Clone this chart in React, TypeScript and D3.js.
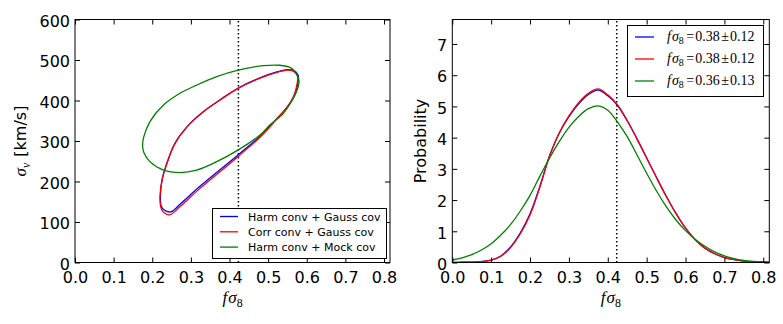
import React from 'react'
import { useEffect, useRef } from 'react'
import { select, scaleLinear, axisBottom, axisLeft, axisTop, axisRight, line, curveCatmullRomClosed, curveCatmullRom, range } from 'd3'

// ---- data ----
const fsigTicks = [0, 0.1, 0.2, 0.3, 0.4, 0.5, 0.6, 0.7, 0.8]
const sigvTicks = [0, 100, 200, 300, 400, 500, 600]
const probTicks = [0, 1, 2, 3, 4, 5, 6, 7]
const fiducial = 0.423

// 1-sigma contours (fsigma8, sigma_v)
const harmGaussX = [0.221, 0.2262, 0.2415, 0.259, 0.291, 0.333, 0.376, 0.4227, 0.479, 0.525, 0.55, 0.568, 0.578, 0.575, 0.566, 0.549, 0.523, 0.485, 0.4227, 0.3236, 0.272, 0.248, 0.23, 0.223]
const harmGaussY = [165, 207, 255, 295, 336, 373, 402, 431, 456, 471, 476, 473, 462, 433, 408, 383, 356, 317, 266, 188, 144, 125, 130, 140]
const corrGaussX = [0.22, 0.2255, 0.241, 0.2585, 0.29, 0.332, 0.375, 0.4227, 0.479, 0.525, 0.55, 0.566, 0.576, 0.573, 0.564, 0.547, 0.521, 0.483, 0.4227, 0.3236, 0.272, 0.246, 0.229, 0.2225]
const corrGaussY = [162, 205, 253, 293, 335, 372, 401, 430, 455, 470, 475, 472, 460, 432, 407, 381, 353, 313, 262, 183, 138, 118, 124, 135]
const harmMockX = [0.175, 0.178, 0.194, 0.229, 0.272, 0.315, 0.367, 0.4227, 0.4875, 0.53, 0.558, 0.572, 0.58, 0.576, 0.565, 0.539, 0.505, 0.479, 0.4227, 0.367, 0.315, 0.272, 0.229, 0.194, 0.178]
const harmMockY = [290, 310, 348, 389, 418, 438, 459, 475, 486, 487, 481, 468, 448, 428, 405, 368, 340, 315, 278, 249, 228, 222, 228, 249, 272]

// marginal probability of fsigma8
const pdfX = [0, 0.025, 0.05, 0.075, 0.1, 0.125, 0.15, 0.175, 0.2, 0.225, 0.25, 0.275, 0.3, 0.325, 0.35, 0.375, 0.4, 0.425, 0.45, 0.475, 0.5, 0.525, 0.55, 0.575, 0.6, 0.625, 0.65, 0.675, 0.7, 0.725, 0.75, 0.775, 0.8, 0.815]
const pdfHarmGauss = [0.005, 0.008, 0.013, 0.03, 0.08, 0.21, 0.5, 0.95, 1.56, 2.43, 3.41, 4.14, 4.67, 5.08, 5.38, 5.52, 5.34, 5.03, 4.54, 3.96, 3.35, 2.73, 2.13, 1.58, 1.1, 0.73, 0.46, 0.28, 0.16, 0.09, 0.045, 0.02, 0.01, 0.007]
const pdfCorrGauss = [0.005, 0.008, 0.012, 0.028, 0.075, 0.2, 0.48, 0.92, 1.52, 2.4, 3.4, 4.15, 4.7, 5.12, 5.42, 5.56, 5.37, 5.05, 4.55, 3.97, 3.35, 2.73, 2.13, 1.58, 1.1, 0.73, 0.46, 0.28, 0.16, 0.09, 0.045, 0.02, 0.01, 0.007]
const pdfHarmMock = [0.08, 0.15, 0.25, 0.4, 0.6, 0.88, 1.22, 1.65, 2.15, 2.76, 3.34, 3.87, 4.33, 4.68, 4.93, 5.02, 4.88, 4.5, 4.03, 3.45, 2.86, 2.3, 1.8, 1.37, 1.02, 0.74, 0.52, 0.34, 0.21, 0.12, 0.065, 0.035, 0.018, 0.013]

const seriesNames = ['Harm conv + Gauss cov', 'Corr conv + Gauss cov', 'Harm conv + Mock cov']
const seriesColors = ['#0000ff', '#ff0000', '#008000']
const pdfLabels = [['0.38', '0.12'], ['0.38', '0.12'], ['0.36', '0.13']]

const SANS = 'DejaVu Sans'
const MATH = 'Liberation Serif'

function App() {
  const svgRef = useRef(null)

  useEffect(() => {
    const width = 783
    const height = 324
    const svg = select(svgRef.current)
    svg.selectAll('*').remove()
    svg.attr('width', width).attr('height', height)
    svg.append('rect').attr('width', width).attr('height', height).attr('fill', 'white')

    const top = 19.5
    const bottom = 262.5

    const drawFrame = (x, y, xt, yt, yFmt) => {
      const g = svg.append('g')
      const [x0, x1] = x.range()
      const [y0, y1] = y.range()
      const styleAxis = (a) => {
        a.select('.domain').remove()
        a.selectAll('.tick line').attr('stroke', 'black').attr('stroke-width', 1)
        a.selectAll('text').attr('font-family', SANS).attr('font-size', 16).attr('fill', 'black')
      }
      g.append('g').attr('transform', `translate(0,${y0})`)
        .call(axisBottom(x).tickValues(xt).tickFormat(d => d.toFixed(1)).tickSize(-5).tickPadding(9))
        .call(styleAxis)
      g.append('g').attr('transform', `translate(0,${y1})`)
        .call(axisTop(x).tickValues(xt).tickFormat(() => '').tickSize(-5))
        .call(styleAxis)
      g.append('g').attr('transform', `translate(${x0},0)`)
        .call(axisLeft(y).tickValues(yt).tickFormat(yFmt).tickSize(-5).tickPadding(5))
        .call(styleAxis)
        .selectAll('text').attr('dy', '0.42em')
      g.append('g').attr('transform', `translate(${x1},0)`)
        .call(axisRight(y).tickValues(yt).tickFormat(() => '').tickSize(-5))
        .call(styleAxis)
      g.append('rect')
        .attr('x', x0).attr('y', y1).attr('width', x1 - x0).attr('height', y0 - y1)
        .attr('fill', 'none').attr('stroke', 'black').attr('stroke-width', 1)
      return g
    }

    const addMathLabel = (sel) => {
      sel.append('tspan').attr('font-style', 'italic').text('f')
      sel.append('tspan').attr('font-style', 'italic').attr('dx', 1).text('σ')
      sel.append('tspan').attr('font-size', '0.7em').attr('dy', 4).text('8')
    }

    // ---------- left panel ----------
    const xL = scaleLinear().domain([0, 0.8155]).range([75, 390])
    const yL = scaleLinear().domain([0, 600]).range([bottom, top])

    svg.append('line')
      .attr('x1', xL(fiducial)).attr('x2', xL(fiducial))
      .attr('y1', yL(0)).attr('y2', yL(600))
      .attr('stroke', 'black').attr('stroke-width', 1.5).attr('stroke-dasharray', '1.5,2.5')

    const contours = [[harmGaussX, harmGaussY], [corrGaussX, corrGaussY], [harmMockX, harmMockY]]
    const contourLine = line().x(d => xL(d[0])).y(d => yL(d[1])).curve(curveCatmullRomClosed.alpha(0.5))
    contours.forEach(([cx, cy], i) => {
      svg.append('path')
        .datum(cx.map((v, k) => [v, cy[k]]))
        .attr('d', contourLine)
        .attr('fill', 'none').attr('stroke', seriesColors[i]).attr('stroke-width', 1.3)
    })

    drawFrame(xL, yL, fsigTicks, sigvTicks, d => String(d))

    // left legend
    const legL = svg.append('g')
    legL.append('rect').attr('x', 212.5).attr('y', 208.5).attr('width', 174).attr('height', 50)
      .attr('fill', 'white').attr('stroke', 'black').attr('stroke-width', 1)
    seriesNames.forEach((name, i) => {
      const yy = 216.5 + i * 15.3
      legL.append('line').attr('x1', 220).attr('x2', 238).attr('y1', yy).attr('y2', yy)
        .attr('stroke', seriesColors[i]).attr('stroke-width', 1.3)
      legL.append('text').attr('x', 248).attr('y', yy + 4)
        .attr('font-family', SANS).attr('font-size', 11).text(name)
    })

    // left labels
    const ylab = svg.append('text')
      .attr('transform', 'translate(26,141) rotate(-90)')
      .attr('text-anchor', 'middle').attr('font-size', 16).attr('fill', 'black')
    ylab.append('tspan').attr('font-family', MATH).attr('font-style', 'italic').attr('font-size', 17).text('σ')
    ylab.append('tspan').attr('font-family', MATH).attr('font-style', 'italic').attr('font-size', 12).attr('dy', 4).text('v')
    ylab.append('tspan').attr('font-family', SANS).attr('dy', -4).attr('dx', 6).text('[km/s]')

    const xlabL = svg.append('text').attr('x', xL(0.408)).attr('y', 303)
      .attr('text-anchor', 'middle').attr('font-family', MATH).attr('font-size', 17)
    addMathLabel(xlabL)

    // ---------- right panel ----------
    const xR = scaleLinear().domain([0, 0.8155]).range([452.3, 769.3])
    const yR = scaleLinear().domain([0, 7.785]).range([bottom, top])

    svg.append('line')
      .attr('x1', xR(fiducial)).attr('x2', xR(fiducial))
      .attr('y1', yR(0)).attr('y2', yR(7.785))
      .attr('stroke', 'black').attr('stroke-width', 1.5).attr('stroke-dasharray', '1.5,2.5')

    const pdfLine = line().x(d => xR(d[0])).y(d => yR(d[1])).curve(curveCatmullRom.alpha(0.5))
    ;[pdfHarmGauss, pdfCorrGauss, pdfHarmMock].forEach((vals, i) => {
      svg.append('path')
        .datum(pdfX.map((v, k) => [v, vals[k]]))
        .attr('d', pdfLine)
        .attr('fill', 'none').attr('stroke', seriesColors[i]).attr('stroke-width', 1.3)
    })

    drawFrame(xR, yR, fsigTicks, probTicks, d => String(d))

    // right legend
    const legR = svg.append('g')
    legR.append('rect').attr('x', 627.5).attr('y', 25.5).attr('width', 136).attr('height', 71)
      .attr('fill', 'white').attr('stroke', 'black').attr('stroke-width', 1)
    range(3).forEach(i => {
      const yy = 37 + i * 22
      legR.append('line').attr('x1', 635).attr('x2', 654).attr('y1', yy).attr('y2', yy)
        .attr('stroke', seriesColors[i]).attr('stroke-width', 1.3)
      const t = legR.append('text').attr('x', 667).attr('y', yy + 4)
        .attr('font-family', MATH).attr('font-size', 14)
      t.append('tspan').attr('font-style', 'italic').text('f')
      t.append('tspan').attr('font-style', 'italic').attr('dx', 1).text('σ')
      t.append('tspan').attr('font-size', 10).attr('dy', 3).text('8')
      t.append('tspan').attr('dy', -3).attr('dx', 2.5).text('=')
      t.append('tspan').attr('dx', 1).text(pdfLabels[i][0])
      t.append('tspan').attr('dx', 1.5).text('±')
      t.append('tspan').attr('dx', 1).text(pdfLabels[i][1])
    })

    svg.append('text')
      .attr('transform', 'translate(426,141) rotate(-90)')
      .attr('text-anchor', 'middle').attr('font-family', SANS).attr('font-size', 16)
      .text('Probability')

    const xlabR = svg.append('text').attr('x', xR(0.408)).attr('y', 303)
      .attr('text-anchor', 'middle').attr('font-family', MATH).attr('font-size', 17)
    addMathLabel(xlabR)
  }, [])

  return (
    <div>
      <svg ref={svgRef} style={{ position: 'absolute', left: 0, top: 0 }}></svg>
    </div>
  )
}

export default App
